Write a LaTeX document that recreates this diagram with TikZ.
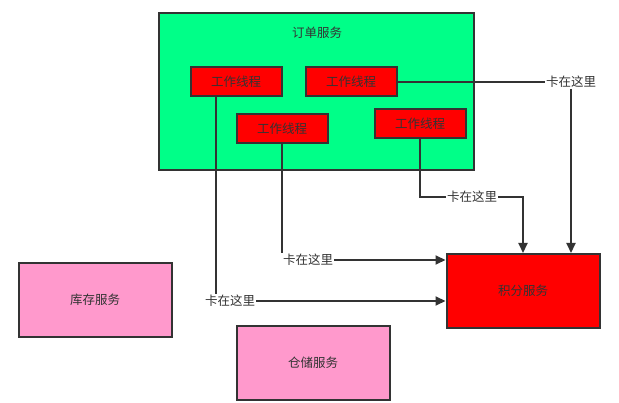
\documentclass[tikz,border=0pt]{standalone}
\usepackage{fontspec}
\usepackage{xcolor}
\usepackage{tikz}
\usetikzlibrary{arrows.meta,calc}
\newfontfamily\cjk{Noto Sans CJK SC}
\definecolor{ordgreen}{RGB}{0,255,136}
\definecolor{threadred}{RGB}{255,0,0}
\definecolor{svcpink}{RGB}{255,153,204}
\definecolor{linegray}{RGB}{51,51,51}

\tikzset{
  box/.style={draw=linegray,line width=2pt,text=linegray,font=\cjk\fontsize{12.5}{14}\selectfont,inner sep=0pt},
  thread/.style={box,fill=threadred,minimum width=91pt,minimum height=29pt},
  svc/.style={box,minimum width=153pt,minimum height=74pt},
  stuck/.style={text=linegray,font=\cjk\fontsize{12.5}{14}\selectfont,inner sep=1pt},
  conn/.style={draw=linegray,line width=2pt},
  arr/.style={conn,-{Triangle[length=10pt,width=9pt]}}
}

\begin{document}
\begin{tikzpicture}[x=1pt,y=-1pt]
  \useasboundingbox (0,0) rectangle (619,403);
  % order service and its threads
  \node[box,fill=ordgreen,minimum width=315pt,minimum height=157pt] (order) at (316,92) {};
  \node[stuck] (ordlbl) at (317,33) {订单服务};
  \node[thread] (t1) at (236,82) {工作线程};
  \node[thread] (t2) at (351,82) {工作线程};
  \node[thread] (t3) at (282,129) {工作线程};
  \node[thread] (t4) at (420,124) {工作线程};
  % services
  \node[svc,fill=threadred] (points) at (523,291) {积分服务};
  \node[svc,fill=svcpink] (stock) at (95,300) {库存服务};
  \node[svc,fill=svcpink] (store) at (313,363) {仓储服务};
  % stuck labels
  \node[stuck] (l1) at (230,301) {卡在这里};
  \node[stuck] (l2) at (571,82) {卡在这里};
  \node[stuck] (l3) at (308,260) {卡在这里};
  \node[stuck] (l4) at (472,197) {卡在这里};
  % connectors
  \coordinate (t1foot) at ($(t1.south)+(-20,0)$);
  \draw[conn] (t1foot) -- (t1foot |- l1.north);
  \draw[arr] (l1.east) -- (l1.east -| points.west);
  \draw[conn] (t2.east) -- (t2.east -| l2.west);
  \draw[arr] (l2.south) -- (l2.south |- points.north);
  \draw[conn] (t3.south) -- (t3.south |- l3.north);
  \draw[arr] (l3.east) -- (l3.east -| points.west);
  \draw[conn] (t4.south) |- (l4.west);
  \draw[arr] (l4.east) -| (points.north);
\end{tikzpicture}
\end{document}
